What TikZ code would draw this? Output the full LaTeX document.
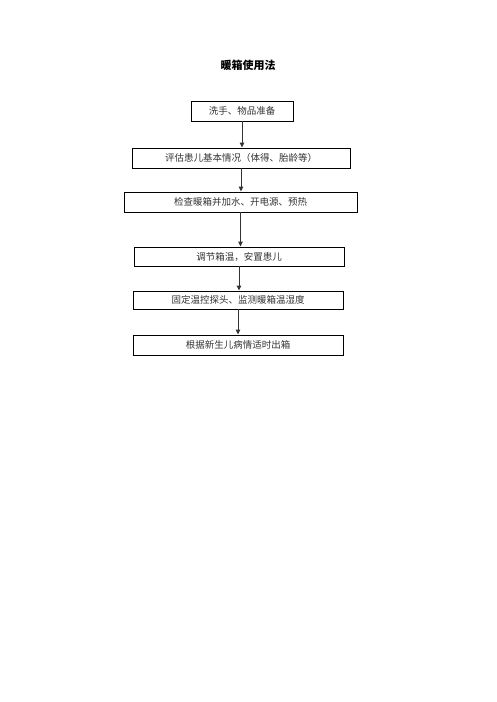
\documentclass[tikz,border=0pt]{standalone}
\usepackage{fontspec}
\setmainfont{Noto Sans CJK SC}
\newfontfamily\cjk{Noto Sans CJK SC}
\usetikzlibrary{arrows.meta}
\tikzset{
  stepbox/.style={draw=black, line width=0.9pt, inner sep=0pt, minimum height=20pt, font=\cjk\fontsize{9.5}{11}\selectfont, text=black!80},
  arr/.style={draw=black!80, line width=1pt, -{Triangle[length=5pt,width=4.5pt]}}
}
\begin{document}
\begin{tikzpicture}[x=1pt,y=-1pt]
\useasboundingbox (0,0) rectangle (496,702);
\node[font=\cjk\bfseries\fontsize{11}{13}\selectfont] (title) at (248,65) {暖箱使用法};
\node[stepbox, minimum width=102pt] (b1) at (242,111) {洗手、物品准备};
\node[stepbox, minimum width=218pt] (b2) at (241,158) {评估患儿基本情况（体得、胎龄等）};
\node[stepbox, minimum width=233pt] (b3) at (240.5,202) {检查暖箱并加水、开电源、预热};
\node[stepbox, minimum width=210pt, minimum height=19pt] (b4) at (239,256.5) {调节箱温，安置患儿};
\node[stepbox, minimum width=210pt, minimum height=18pt] (b5) at (238,300) {固定温控探头、监测暖箱温湿度};
\node[stepbox, minimum width=210pt] (b6) at (238,345) {根据新生儿病情适时出箱};
\draw[arr] (b1.south) -- (b1.south |- b2.north);
\draw[arr] (b2.south) -- (b2.south |- b3.north);
\draw[arr] (b3.south) -- (b3.south |- b4.north);
\draw[arr] (b4.south) -- (b4.south |- b5.north);
\draw[arr] (b5.south) -- (b5.south |- b6.north);
\end{tikzpicture}
\end{document}
